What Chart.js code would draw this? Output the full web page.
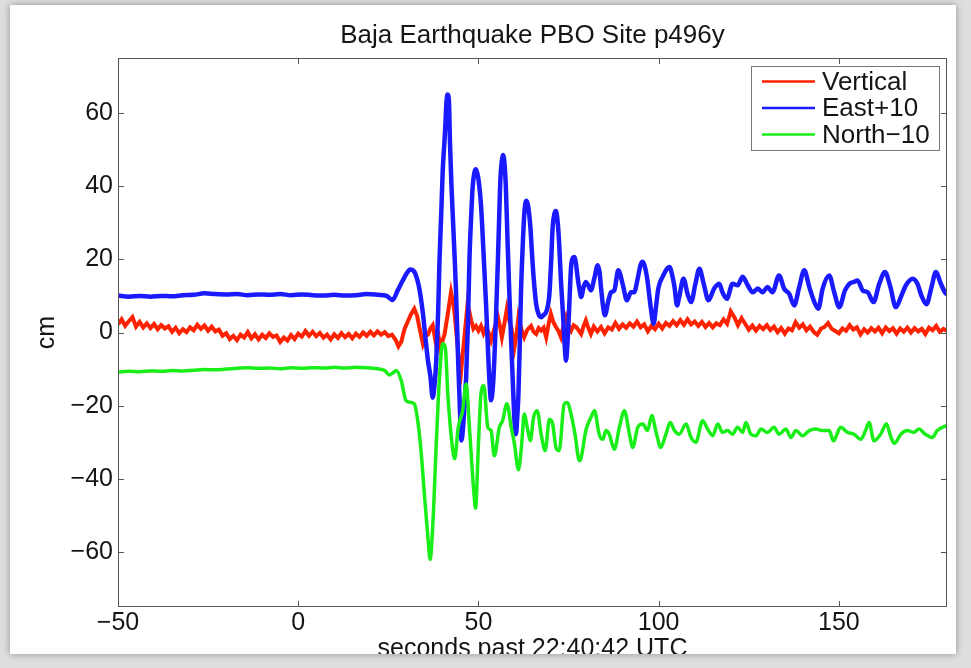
<!DOCTYPE html>
<html>
<head>
<meta charset="utf-8">
<script src="https://cdn.jsdelivr.net/npm/chart.js@4.4.1/dist/chart.umd.min.js"></script>
<style>
  html, body { margin: 0; padding: 0; }
  body { width: 971px; height: 668px; overflow: hidden; background: #dedede; position: relative; }
  #panel { position: absolute; left: 10px; top: 5px; width: 946px; height: 649px; background: #fff;
           overflow: hidden; box-shadow: 0 0 7px rgba(0,0,0,0.35); }
  #wrap { position: absolute; left: -10px; top: -5px; width: 971px; height: 668px; }
</style>
</head>
<body>
<div id="panel"><div id="wrap"><canvas id="c" width="971" height="668"></canvas></div></div>
<script>
// ---------------- data ----------------
const titleText = 'Baja Earthquake PBO Site p496y';
const xTitle = 'seconds past 22:40:42 UTC';
const yTitle = 'cm';
const seriesNames = ['Vertical', 'East+10', 'North\u221210'];
const xTickValues = [-50, 0, 50, 100, 150];
const yTickValues = [-60, -40, -20, 0, 20, 40, 60];

// Vertical (red)
const vertT = [
  -50,-49,-48,-47,-46,-45,-44,-43,-42,-41,
  -40,-39,-38,-37,-36,-35,-34,-33,-32,-31,
  -30,-29,-28,-27,-26,-25,-24,-23,-22,-21,
  -20,-19,-18,-17,-16,-15,-14,-13,-12,-11,
  -10,-9,-8,-7,-6,-5,-4,-3,-2,-1,
  0,1,2,3,4,5,6,7,8,9,
  10,11,12,13,14,15,16,17,18,19,
  20,21,22,23,24,25,26,27,
  27.8,28.6,29.5,30.4,31.3,32.2,33.0,33.6,34.6,35.3,
  36.0,36.7,37.3,38.3,39.0,39.5,40.1,40.6,41.5,42.4,
  43.0,43.4,44.4,45.2,46.1,47.0,48.0,48.6,49.3,50.0,
  50.7,51.4,52.1,52.8,53.5,54.4,55.4,56.0,56.5,57.2,
  57.9,58.5,59.1,60.0,60.5,61.1,61.9,62.7,63.6,64.6,
  65.3,66.0,66.7,67.4,68.1,68.8,69.5,70.1,70.8,71.5,
  72.2,72.9,73.6,74.3,75.0,75.7,76.4,77.1,77.8,78.5,
  79.2,79.8,80.5,81.2,
  82,83,84,85,86,87,88,89,90,91,
  92,93,94,95,96,97,98,99,100,101,
  102,103,104,105,106,107,108,109,110,111,
  112,113,114,115,116,117,118,119,120,121,
  122,123,124,125,126,127,128,129,130,131,
  132,133,134,135,136,137,138,139,140,141,
  142,143,144,145,146,147,148,149,150,151,
  152,153,154,155,156,157,158,159,160,161,
  162,163,164,165,166,167,168,169,170,171,
  172,173,174,175,176,177,178,179,180
];
const vertV = [
  2.2,3.6,1.8,3.1,4.2,1.6,2.9,1.4,2.5,1.2,
  2.3,0.9,2.0,1.1,1.7,0.2,1.3,-0.2,0.9,0.1,
  1.4,0.6,2.1,1.0,1.9,0.5,1.6,0.3,0.8,-0.9,
  -0.2,-1.8,-0.9,-2.1,-0.6,-1.4,0.1,-1.6,-0.5,-1.9,
  -0.6,-1.5,-0.2,-1.2,-0.8,-2.6,-1.4,-2.2,-0.7,-1.8,
  -0.3,-1.1,0.4,-0.9,0.2,-1.0,-0.1,-1.4,-0.6,-1.9,
  -0.5,-1.5,-0.2,-1.3,-0.4,-1.6,-0.3,-1.2,0.0,-0.9,
  0.2,-0.8,0.3,-0.6,0.1,-1.0,-0.6,-2.0,
  -3.8,-2.5,1.0,3.0,5.0,6.5,4.5,1.5,-3.1,-1.0,
  -0.6,1.2,2.0,-3.5,-1.5,-4.5,-2.0,-0.5,5.1,11.0,
  8.0,5.1,-5.8,-10.5,-1.3,7.8,3.3,1.0,1.8,0.5,
  1.8,-0.2,1.5,0.0,-2.2,1.0,4.2,1.5,-1.3,2.5,
  6.5,3.5,1.5,-4.0,-1.0,4.2,1.0,-1.3,0.8,1.8,
  0.2,-0.4,1.2,0.5,1.3,-1.3,2.5,5.1,2.8,1.5,
  0.4,-1.3,1.8,4.2,1.8,0.5,2.0,1.5,0.6,-0.4,
  1.8,3.3,1.2,-0.4,
  1.6,0.3,1.5,-0.2,1.4,0.8,2.6,1.0,2.2,1.3,
  2.5,1.6,3.0,1.4,2.2,0.3,1.8,0.9,2.4,1.1,
  2.6,1.8,3.1,2.0,3.4,2.1,3.6,2.2,3.0,1.8,
  2.9,1.5,2.6,1.4,2.5,2.0,3.6,2.4,5.8,4.2,
  2.0,3.9,2.4,0.8,1.9,0.5,1.8,0.9,2.0,0.7,
  1.6,0.1,1.2,-0.3,1.1,0.6,2.8,1.3,2.2,0.6,
  1.6,0.2,-0.6,1.0,1.5,2.6,1.0,0.4,-0.2,1.1,
  0.5,2.0,0.8,1.4,-0.5,0.9,0.0,1.2,0.3,1.3,
  -0.2,1.4,0.4,1.2,-0.3,1.1,0.2,1.3,0.0,1.2,
  0.3,1.0,-0.4,1.3,0.6,1.8,0.2,1.0,0.4
];

// East + 10 (blue)
const eastT = [
  -50,-47,-44,-41,-38,-35,-32,-29,-26,-23,
  -20,-17,-14,-11,-8,-5,-2,1,4,7,
  10,13,16,19,22,24.5,26.2,27.6,29.0,30.2,
  31.0,32.2,33.0,33.6,34.6,35.4,36.0,36.7,37.3,37.8,
  38.3,38.8,39.2,39.7,40.1,40.5,40.8,41.1,41.4,41.8,
  42.1,42.5,42.9,43.4,43.8,44.4,44.9,45.3,45.8,46.6,
  47.1,47.5,48.0,48.4,48.9,49.3,49.9,50.7,51.4,52.1,
  52.6,53.0,53.5,54.0,54.4,54.9,55.4,55.8,56.1,56.5,
  56.8,57.2,57.6,58.1,58.6,59.1,59.6,60.0,60.4,60.8,
  61.1,61.5,61.8,62.3,62.8,63.3,63.8,64.4,64.9,65.3,
  66.0,66.7,67.4,68.1,68.8,69.3,69.7,70.2,70.6,71.1,
  71.5,72.0,72.4,72.9,73.4,73.9,74.3,74.7,75.1,75.7,
  76.2,76.6,77.1,77.5,78.0,78.5,79.2,79.8,80.5,81.2,
  82.2,83.1,83.6,84.0,84.6,85.1,86.0,86.8,87.7,88.8,
  90.0,91.2,92.3,93.2,94.2,95.0,95.6,96.3,96.9,97.8,
  98.6,99.2,99.9,101.1,103.0,103.8,104.4,105.1,105.7,106.9,
  108.0,109.0,110.2,111.3,112.5,113.8,115.4,116.8,117.7,118.9,
  120.5,121.9,123.3,124.7,126.1,127.5,128.8,130.2,131.6,133.4,
  134.8,136.2,137.6,139.0,140.4,141.8,143.2,144.3,145.5,147.3,
  148.7,150.1,151.7,152.9,154.1,155.2,156.6,158.0,159.6,161.2,
  162.8,164.3,165.8,167.2,168.6,170.5,171.8,172.9,174.3,175.7,
  176.9,178.3,179.7,180
];
const eastV = [
  10.1,9.8,10.0,9.8,10.0,9.9,10.2,10.3,10.7,10.5,
  10.4,10.5,10.2,10.4,10.3,10.5,10.2,10.4,10.2,10.1,
  10.3,10.1,10.2,10.5,10.3,10.0,8.9,11.5,14.2,16.3,
  17.2,16.6,14.5,12.0,5.2,-2.5,-7.7,-12.2,-17.8,-14.5,
  -7.7,5.0,19.7,33.0,44.4,51.0,56.2,62.5,65.0,63.5,
  52.0,40.5,31.5,20.5,10.6,-8.5,-22.0,-29.5,-25.0,-12.0,
  3.0,19.7,32.0,39.8,43.8,44.6,42.5,35.0,22.0,8.0,
  -3.5,-12.2,-18.5,-15.0,-7.7,5.0,19.7,33.0,42.0,47.0,
  48.5,46.5,40.0,24.3,10.0,-3.0,-15.0,-24.1,-27.8,-22.5,
  -16.8,-2.0,10.6,24.0,33.4,36.0,34.5,28.9,21.0,15.2,
  7.9,5.0,4.2,4.8,5.6,7.5,10.6,20.0,28.9,32.5,
  33.2,30.0,24.3,14.0,6.0,-3.0,-7.7,-3.0,5.0,17.9,
  20.4,20.6,18.5,15.2,12.0,9.7,12.5,13.8,12.8,11.5,
  15.0,18.4,16.5,12.4,7.0,4.7,8.5,11.0,11.5,17.0,
  13.3,8.8,11.0,11.0,14.8,18.5,19.3,17.5,14.2,6.9,
  2.4,6.5,12.0,15.2,17.9,15.5,12.4,7.4,9.7,14.7,
  10.6,8.3,13.3,17.4,13.3,8.8,12.0,13.3,11.0,9.2,
  13.3,12.9,15.2,12.9,11.0,12.0,11.0,12.4,11.0,15.6,
  12.0,10.6,7.4,12.4,17.0,12.4,8.3,6.5,12.0,15.6,
  11.0,6.9,11.5,13.3,13.8,14.2,11.5,11.0,8.3,13.3,
  16.5,12.4,6.9,9.7,12.9,14.7,13.3,10.1,7.7,12.4,
  16.5,13.3,10.6,10.5
];

// North - 10 (green)
const northT = [
  -50,-47,-44,-41,-38,-35,-32,-29,-26,-23,
  -20,-17,-14,-11,-8,-5,-2,1,4,7,
  10,13,16,19,22,24.0,25.3,26.3,27.2,28.6,
  29.9,31.3,32.2,33.4,34.3,35.0,36.0,36.6,37.3,38.3,
  39.2,40.1,40.8,41.5,42.4,43.4,44.4,45.6,46.6,47.5,
  48.7,49.2,50.0,50.7,51.5,52.6,53.5,54.4,55.8,56.7,
  57.9,59.1,60.0,61.1,62.0,62.7,63.7,64.4,65.3,66.3,
  67.4,68.5,69.7,70.6,71.5,72.4,73.8,74.6,75.7,76.8,
  78.0,78.5,79.8,81.2,82.2,83.5,84.5,85.4,86.3,87.7,
  89.1,90.5,91.9,92.8,94.2,95.6,96.9,98.1,99.3,100.6,
  102.0,103.2,104.4,105.7,107.6,109.0,110.3,112.2,113.6,115.0,
  116.4,117.7,119.1,120.5,121.9,123.3,124.2,125.6,127.0,128.4,
  130.2,132.0,133.4,135.3,136.7,138.1,139.9,141.8,143.6,145.5,
  147.3,148.5,150.5,152.4,154.2,156.1,157.4,158.4,159.7,161.6,
  163.2,164.3,165.4,167.2,169.0,170.8,172.2,174.0,175.9,177.3,
  179.7,180
];
const northV = [
  -10.8,-10.6,-10.7,-10.5,-10.6,-10.4,-10.5,-10.3,-10.1,-10.2,
  -10.0,-9.8,-9.6,-9.8,-9.7,-9.9,-9.6,-9.8,-9.6,-9.7,
  -9.5,-9.7,-9.5,-9.6,-9.9,-10.4,-11.6,-11.0,-10.4,-13.2,
  -18.6,-19.1,-19.5,-25.9,-35.0,-44.2,-56.1,-62.0,-53.3,-30.5,
  -12.2,-3.1,-4.0,-16.8,-27.8,-34.5,-25.9,-21.4,-14.1,-25.9,
  -43.3,-48.0,-30.5,-16.8,-14.5,-25.9,-26.8,-33.7,-25.9,-24.1,
  -19.5,-25.9,-30.5,-37.5,-30.5,-22.3,-26.8,-29.6,-23.2,-21.4,
  -27.8,-32.3,-23.7,-25.0,-31.4,-32.3,-19.5,-19.1,-22.3,-27.8,
  -35.0,-34.2,-26.8,-23.2,-21.4,-27.8,-29.2,-26.8,-27.8,-31.9,
  -25.9,-21.4,-27.8,-31.4,-25.9,-25.0,-26.8,-22.7,-27.3,-31.4,
  -27.8,-24.6,-26.8,-27.8,-25.0,-28.7,-30.0,-24.1,-26.4,-28.2,
  -25.0,-27.3,-26.8,-27.8,-25.9,-27.3,-24.6,-27.8,-28.2,-26.4,
  -27.3,-25.9,-27.8,-26.4,-28.7,-26.8,-28.2,-26.8,-26.4,-26.8,
  -26.8,-29.6,-25.9,-27.3,-27.8,-29.2,-26.8,-24.6,-29.6,-27.8,
  -24.9,-28.2,-30.3,-27.8,-26.8,-27.3,-26.4,-27.8,-28.7,-26.8,
  -25.5,-25.4
];

// ---------------- chart ----------------
const FONT = '"Liberation Sans", Arial, Helvetica, sans-serif';
const TXT = '#151515';
const FRAME = '#555';
const colors = ['#ff2200', '#1a1aff', '#19ee19'];
const widths = [4, 4.5, 3.5];

function pts(t, v) { return t.map((x, i) => ({ x: x, y: v[i] })); }
function fmt(v) { return v < 0 ? '\u2212' + Math.abs(v) : String(v); }

const framePlugin = {
  id: 'matlabFrame',
  afterDatasetsDraw(chart) {
    const { ctx, chartArea: a, scales } = chart;
    ctx.save();
    ctx.strokeStyle = FRAME;
    ctx.lineWidth = 1;
    ctx.strokeRect(Math.round(a.left) + 0.5, Math.round(a.top) + 0.5,
                   Math.round(a.right - a.left) - 1, Math.round(a.bottom - a.top) - 1);
    const tl = 6;
    ctx.beginPath();
    xTickValues.forEach(v => {
      const px = Math.round(scales.x.getPixelForValue(v)) + 0.5;
      ctx.moveTo(px, a.bottom); ctx.lineTo(px, a.bottom - tl);
      ctx.moveTo(px, a.top); ctx.lineTo(px, a.top + tl);
    });
    yTickValues.forEach(v => {
      const py = Math.round(scales.y.getPixelForValue(v)) + 0.5;
      ctx.moveTo(a.left, py); ctx.lineTo(a.left + tl, py);
      ctx.moveTo(a.right, py); ctx.lineTo(a.right - tl, py);
    });
    ctx.stroke();

    // legend box (top-right inside the axes)
    const bx = a.right - 196, by = a.top + 8, bw = 188, bh = 84;
    ctx.fillStyle = '#fff';
    ctx.fillRect(bx, by, bw, bh);
    ctx.strokeStyle = '#777';
    ctx.strokeRect(Math.round(bx) + 0.5, Math.round(by) + 0.5, bw, bh);
    ctx.font = '26px ' + FONT;
    ctx.textBaseline = 'middle';
    ctx.textAlign = 'left';
    chart.data.datasets.forEach((ds, i) => {
      const ry = by + 15.5 + i * 26.5;
      ctx.strokeStyle = ds.borderColor;
      ctx.lineWidth = 2.5;
      ctx.beginPath();
      ctx.moveTo(bx + 11, ry); ctx.lineTo(bx + 64, ry);
      ctx.stroke();
      ctx.fillStyle = TXT;
      ctx.fillText(ds.label, bx + 71, ry + 1);
    });
    ctx.restore();
  }
};

new Chart(document.getElementById('c'), {
  type: 'line',
  data: {
    datasets: [
      { label: seriesNames[0], data: pts(vertT, vertV), borderColor: colors[0], borderWidth: widths[0],
        pointRadius: 0, tension: 0, order: 3 },
      { label: seriesNames[1], data: pts(eastT, eastV), borderColor: colors[1], borderWidth: widths[1],
        pointRadius: 0, cubicInterpolationMode: 'monotone', order: 2 },
      { label: seriesNames[2], data: pts(northT, northV), borderColor: colors[2], borderWidth: widths[2],
        pointRadius: 0, cubicInterpolationMode: 'monotone', order: 1 }
    ]
  },
  options: {
    responsive: false,
    animation: false,
    devicePixelRatio: 1,
    layout: { padding: { left: 0, right: 24, top: 0, bottom: 0 } },
    plugins: {
      legend: { display: false },
      tooltip: { enabled: false },
      title: { display: true, text: titleText, color: TXT, fullSize: false,
               font: { family: FONT, size: 26, weight: 'normal' },
               padding: { top: 20.4, bottom: 6.4 } }
    },
    scales: {
      x: {
        type: 'linear', position: 'bottom', min: -50, max: 180,
        grid: { display: false, drawTicks: false },
        border: { display: false },
        afterBuildTicks: s => { s.ticks = xTickValues.map(v => ({ value: v })); },
        afterFit: s => { s.height = 61; },
        ticks: { color: TXT, padding: 1, maxRotation: 0, autoSkip: false,
                 font: { family: FONT, size: 25 }, callback: v => fmt(v) },
        title: { display: true, text: xTitle, color: TXT,
                 font: { family: FONT, size: 25 }, padding: { top: 0, bottom: 4 } }
      },
      y: {
        type: 'linear', position: 'left', min: -75, max: 75,
        grid: { display: false, drawTicks: false },
        border: { display: false },
        afterBuildTicks: s => { s.ticks = yTickValues.map(v => ({ value: v })); },
        afterFit: s => { s.width = 118; },
        ticks: { color: TXT, padding: 5, autoSkip: false,
                 font: { family: FONT, size: 25 }, callback: v => fmt(v) },
        title: { display: true, text: yTitle, color: TXT,
                 font: { family: FONT, size: 25 }, padding: { top: 32, bottom: 0 } }
      }
    }
  },
  plugins: [framePlugin]
});
</script>
</body>
</html>
